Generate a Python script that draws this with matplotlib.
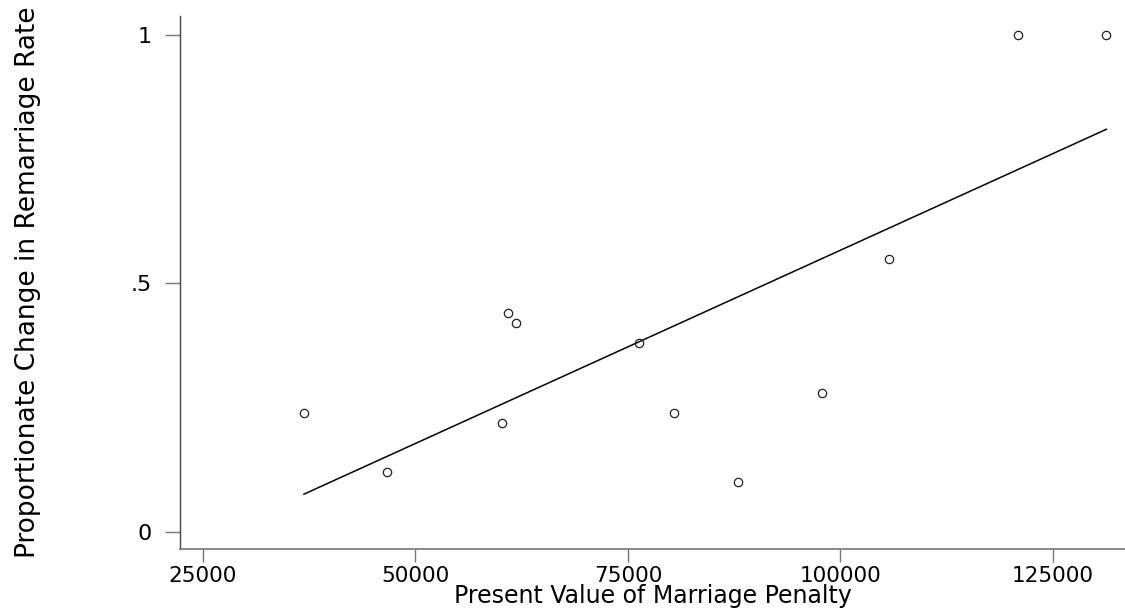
import numpy as np
import matplotlib
matplotlib.use("Agg")
import matplotlib.pyplot as plt

# Data
penalty = [36880, 46690, 60180, 60880, 61790, 76290, 80410, 87940, 97820, 105740, 120850, 131280]
change = [0.24, 0.12, 0.22, 0.44, 0.42, 0.38, 0.24, 0.10, 0.28, 0.55, 1.00, 1.00]
x_ticks = [25000, 50000, 75000, 100000, 125000]
y_ticks = [0, 0.5, 1]
y_tick_labels = ["0", ".5", "1"]
x_title = "Present Value of Marriage Penalty"
y_title = "Proportionate Change in Remarriage Rate"

plt.rcParams['font.family'] = ['DejaVu Sans']

fig = plt.figure(figsize=(11.25, 6.11), dpi=100)
ax = fig.add_axes([0.16, 0.1015, 0.84, 0.8723])

x = np.array(penalty, dtype=float)
y = np.array(change, dtype=float)
slope, intercept = np.polyfit(x, y, 1)
xs = np.array([x.min(), x.max()])
ax.plot(xs, intercept + slope * xs, color='black', lw=1.1, zorder=2)
ax.plot(x, y, linestyle='none', marker='o', markersize=6, markerfacecolor='none',
        markeredgecolor='#222222', markeredgewidth=0.9, zorder=3)

ax.set_xlim(22294, 133471)
ax.set_ylim(-0.0342, 1.0382)
ax.set_xticks(x_ticks)
ax.set_xticklabels([str(t) for t in x_ticks])
ax.set_yticks(y_ticks)
ax.set_yticklabels(y_tick_labels)

for s in ['top', 'right']:
    ax.spines[s].set_visible(False)
ax.spines['left'].set_color('#444444')
ax.spines['bottom'].set_color('#777777')
ax.spines['left'].set_linewidth(1.0)
ax.spines['bottom'].set_linewidth(1.2)

ax.tick_params(axis='x', length=9, width=1, color='#777777', pad=3, labelsize=15.5)
ax.tick_params(axis='y', length=10.5, width=1, color='#777777', pad=10, labelsize=16)

ax.set_xlabel(x_title, fontsize=17, labelpad=-1)
ax.set_ylabel(y_title, fontsize=19, labelpad=64)

fig.savefig("out.png", dpi=100)
